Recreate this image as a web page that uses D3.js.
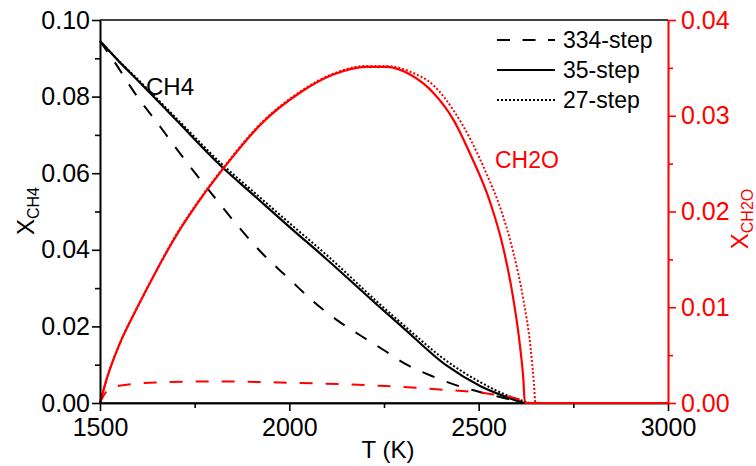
<!DOCTYPE html>
<html><head><meta charset="utf-8">
<script src="https://cdn.jsdelivr.net/npm/d3@7"></script>
<style>
html,body{margin:0;padding:0;background:#fff;}
text{font-family:"Liberation Sans",Arial,sans-serif;}
</style></head>
<body><svg id="c" width="756" height="466"></svg>
<script>
// ---- data ----
const xTicks = [1500, 2000, 2500, 3000];
const yLeftTicks = [0, 0.02, 0.04, 0.06, 0.08, 0.10];
const yRightTicks = [0, 0.01, 0.02, 0.03, 0.04];
const legendLabels = ["334-step", "35-step", "27-step"];

const ch4_334_T = [1500,1540,1592,1660,1724,1800,1865,1930,2003,2060,2125,2190,2248,2310,2380,2451,2530,2575,2610];
const ch4_334_V = [0.0945,0.0888,0.0809,0.0720,0.0635,0.0540,0.0461,0.0389,0.0321,0.0268,0.0217,0.0175,0.0139,0.0100,0.0069,0.0043,0.0022,0.0011,0.0];

const ch4_35_T = [1500,1550,1600,1700,1826,1900,2000,2100,2239,2300,2415,2505,2570,2620];
const ch4_35_V = [0.0945,0.0892,0.0842,0.0740,0.0613,0.0548,0.0460,0.0374,0.0250,0.0197,0.0098,0.0044,0.0017,0.0];

const ch4_27_T = [1500,1550,1600,1700,1826,1900,2000,2100,2239,2300,2415,2505,2580,2635];
const ch4_27_V = [0.0945,0.0893,0.0845,0.0745,0.0620,0.0556,0.0470,0.0385,0.0258,0.0205,0.0110,0.0054,0.0018,0.0];

const ch2o_334_T = [1500,1510,1520,1550,1654,1795,2015,2239,2380,2530,2609,2625,3000];
const ch2o_334_V = [0.0,0.0008,0.0013,0.0018,0.00215,0.00225,0.0021,0.0018,0.00146,0.00094,0.00035,0.0,0.0];

const ch2o_35_T = [1500,1520,1550,1600,1650,1700,1760,1826,1927,2028,2116,2204,2257,2319,2380,2433,2480,2530,2565,2591,2609,2618,2622,3000];
const ch2o_35_V = [0.0,0.0028,0.0060,0.0101,0.0139,0.0174,0.0210,0.0245,0.0292,0.0324,0.0343,0.0351,0.0351,0.0343,0.0324,0.0296,0.0258,0.0210,0.0162,0.0110,0.0060,0.0025,0.0,0.0];

const ch2o_27_T = [1500,1520,1550,1600,1650,1700,1760,1826,1927,2028,2116,2204,2257,2319,2380,2433,2480,2520,2556,2591,2618,2637,2646,2650,3000];
const ch2o_27_V = [0.0,0.0028,0.0060,0.0101,0.0139,0.0175,0.0211,0.0246,0.0293,0.0325,0.0344,0.0352,0.0352,0.0346,0.0332,0.0306,0.0274,0.0240,0.0205,0.0158,0.0108,0.0058,0.0020,0.0,0.0];

// ---- layout ----
const svg = d3.select("#c");
const L = 100, R = 668, T = 20, B = 403;
const x = d3.scaleLinear().domain([1500, 3000]).range([L, R]);
const yL = d3.scaleLinear().domain([0, 0.10]).range([B, T]);
const yR = d3.scaleLinear().domain([0, 0.04]).range([B, T]);
const RED = "#ff0000";

function pts(ts, vs){ return ts.map((t,i)=>[t, vs[i]]); }
const lineL = d3.line().x(d=>x(d[0])).y(d=>yL(d[1])).curve(d3.curveMonotoneX);
const lineR = d3.line().x(d=>x(d[0])).y(d=>yR(d[1])).curve(d3.curveMonotoneX);

const styles = {
  dash: {dash:"13,13", w:2},
  solid:{dash:null, w:2.2},
  dot:  {dash:"2,2", w:2}
};
function draw(gen, data, color, st){
  svg.append("path").attr("d", gen(data)).attr("fill","none")
    .attr("stroke", color).attr("stroke-width", st.w)
    .attr("stroke-dasharray", st.dash);
}

draw(lineL, pts(ch4_334_T, ch4_334_V), "#000", styles.dash);
draw(lineL, pts(ch4_27_T, ch4_27_V), "#000", styles.dot);
draw(lineL, pts(ch4_35_T, ch4_35_V), "#000", styles.solid);
draw(lineR, pts(ch2o_334_T, ch2o_334_V), RED, styles.dash);
draw(lineR, pts(ch2o_27_T, ch2o_27_V), RED, styles.dot);
draw(lineR, pts(ch2o_35_T, ch2o_35_V), RED, styles.solid);

// ---- axes ----
const fs = 25;
function styleAxis(g, color){
  g.selectAll("path").attr("stroke", color).attr("stroke-width", 1.6);
  g.selectAll("line").attr("stroke", color).attr("stroke-width", 1.6);
  g.selectAll("text").attr("fill", color).style("font-size", fs+"px")
    .style("font-family","'Liberation Sans',Arial,sans-serif");
}
const gxm = svg.append("g").attr("transform",`translate(0,${B})`)
  .call(d3.axisBottom(x).tickValues(d3.range(1750,3000,500)).tickSize(5).tickFormat("").tickSizeOuter(0));
styleAxis(gxm,"#000");
const gx = svg.append("g").attr("transform",`translate(0,${B})`)
  .call(d3.axisBottom(x).tickValues(xTicks).tickSize(8).tickPadding(2).tickFormat(d3.format("d")).tickSizeOuter(0));
styleAxis(gx,"#000");
gx.selectAll("text").attr("dy","0.9em");

const gylm = svg.append("g").attr("transform",`translate(${L},0)`)
  .call(d3.axisLeft(yL).tickValues([0.01,0.03,0.05,0.07,0.09]).tickSize(5).tickFormat("").tickSizeOuter(0));
styleAxis(gylm,"#000");
const gyl = svg.append("g").attr("transform",`translate(${L},0)`)
  .call(d3.axisLeft(yL).tickValues(yLeftTicks).tickSize(8).tickPadding(2).tickFormat(d3.format(".2f")).tickSizeOuter(0));
styleAxis(gyl,"#000");

const gyrm = svg.append("g").attr("transform",`translate(${R},0)`)
  .call(d3.axisRight(yR).tickValues([0.005,0.015,0.025,0.035]).tickSize(5).tickFormat("").tickSizeOuter(0));
styleAxis(gyrm,RED);
const gyr = svg.append("g").attr("transform",`translate(${R},0)`)
  .call(d3.axisRight(yR).tickValues(yRightTicks).tickSize(8).tickPadding(5).tickFormat(d3.format(".2f")).tickSizeOuter(0));
styleAxis(gyr,RED);

svg.append("line").attr("x1",L).attr("x2",R).attr("y1",T).attr("y2",T)
  .attr("stroke","#000").attr("stroke-width",1.6);
svg.append("line").attr("x1",L).attr("x2",R).attr("y1",B).attr("y2",B)
  .attr("stroke","#000").attr("stroke-width",1.6);
draw(lineR, [[2622,0],[3000,0]], RED, styles.solid);

// ---- axis titles ----
svg.append("text").attr("x",388).attr("y",458).attr("text-anchor","middle")
  .style("font-size","24px").attr("fill","#000").text("T (K)");

const tl = svg.append("text").attr("transform","translate(34,211) rotate(-90)")
  .attr("text-anchor","middle").attr("fill","#000").style("font-size","24px");
tl.append("tspan").text("X");
tl.append("tspan").attr("dy",5).style("font-size","16px").text("CH4");

const tr = svg.append("text").attr("transform","translate(748,219) rotate(-90)")
  .attr("text-anchor","middle").attr("fill",RED).style("font-size","24px");
tr.append("tspan").text("X");
tr.append("tspan").attr("dy",5).style("font-size","16px").text("CH2O");

// ---- curve labels ----
svg.append("text").attr("x",146).attr("y",95).style("font-size","24px").attr("fill","#000").text("CH4");
svg.append("text").attr("x",495).attr("y",168).style("font-size","23px").attr("fill",RED).text("CH2O");

// ---- legend ----
const legStyles = [{dash:"13,12.5", w:2}, styles.solid, styles.dot];
legendLabels.forEach((lab,i)=>{
  const yy = 40 + i*30;
  svg.append("line").attr("x1",497).attr("x2",555).attr("y1",yy).attr("y2",yy)
    .attr("stroke","#000").attr("stroke-width",legStyles[i].w)
    .attr("stroke-dasharray",legStyles[i].dash);
  svg.append("text").attr("x",563).attr("y",yy+8).style("font-size","23px")
    .attr("fill","#000").text(lab);
});
</script></body></html>
